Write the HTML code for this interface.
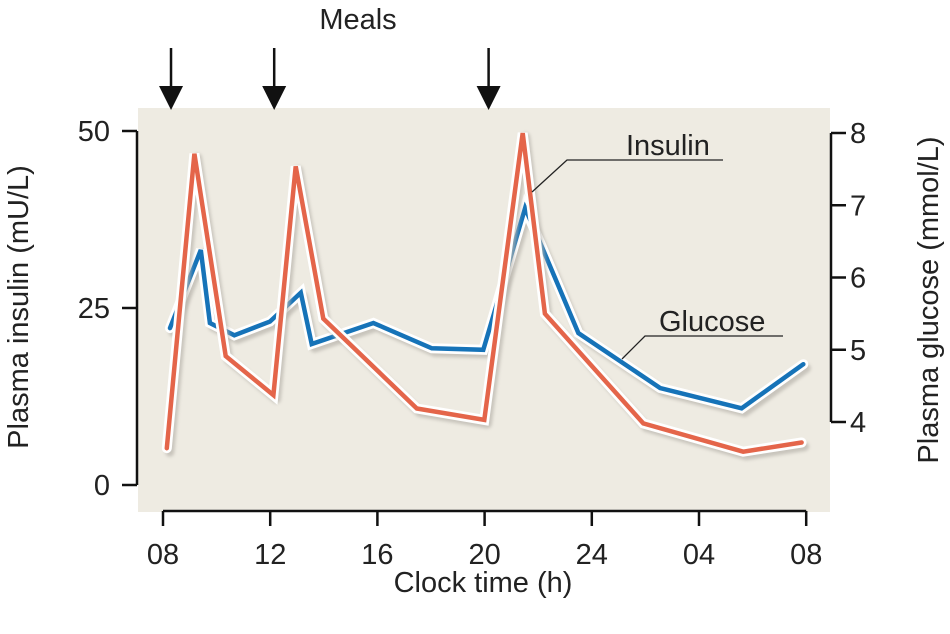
<!DOCTYPE html>
<html><head><meta charset="utf-8"><style>
html,body{margin:0;padding:0;background:#fff;}
svg text{font-family:"Liberation Sans",Arial,sans-serif;fill:#222;}
</style></head><body>
<svg id="chart" width="950" height="629" viewBox="0 0 950 629" xmlns="http://www.w3.org/2000/svg">
<defs><filter id="sh" x="-10%" y="-10%" width="120%" height="120%"><feGaussianBlur stdDeviation="1.5"/></filter></defs>
<rect x="138" y="108" width="692" height="404" fill="#eeebe2"/>
<g id="marks"></g>
<g id="axes" stroke="#111" stroke-width="2.5" fill="none"></g>
<g id="labels"></g>
<text x="358" y="29" font-size="29" text-anchor="middle">Meals</text>
<text x="483" y="592" font-size="29" text-anchor="middle">Clock time (h)</text>
<text transform="translate(28,307) rotate(-90)" font-size="29" text-anchor="middle">Plasma insulin (mU/L)</text>
<text transform="translate(938,300) rotate(-90)" font-size="29" text-anchor="middle">Plasma glucose (mmol/L)</text>
<text x="626" y="155" font-size="29">Insulin</text>
<polyline points="532,192 567,160 723,160" fill="none" stroke="#222" stroke-width="1.3"/>
<text x="659" y="331" font-size="29">Glucose</text>
<polyline points="622,359 645,336 783,336" fill="none" stroke="#222" stroke-width="1.3"/>
</svg>
<script>
const insulinHours=[0.14,1.17,2.34,4.12,4.95,5.98,9.47,11.99,13.42,14.25,17.92,21.65,23.83];
const insulinValues=[5.2,46.8,18.2,12.7,45,23.5,10.8,9.2,49.7,24.2,8.7,4.7,6.0];
const glucoseHours=[0.26,1.41,1.75,2.66,3.99,5.14,5.55,7.85,10.03,11.95,13.51,14.13,15.5,18.55,21.59,23.89];
const glucoseValues=[5.30,6.38,5.37,5.20,5.39,5.79,5.08,5.37,5.02,5.00,6.96,6.43,5.23,4.47,4.19,4.80];
const xTickLabels=["08","12","16","20","24","04","08"];
const xTickHours=[0,4,8,12,16,20,24];
const leftTicks=[0,25,50];
const rightTicks=[4,5,6,7,8];
const mealHours=[0.15,4.0,12.0];

const NS="http://www.w3.org/2000/svg";
const xs=h=>163+h*26.8;
const yL=v=>485-v*7.08;
const yR=v=>133+(8-v)*72.25;
function mk(tag,attrs,parent){const e=document.createElementNS(NS,tag);for(const k in attrs)e.setAttribute(k,attrs[k]);parent.appendChild(e);return e;}
const marks=document.getElementById('marks'),axes=document.getElementById('axes'),labels=document.getElementById('labels');
function series(hours,vals,ys,color,name){
  const pts=hours.map((h,i)=>xs(h).toFixed(1)+","+ys(vals[i]).toFixed(1)).join(" ");
  const sh=mk('polyline',{points:pts,fill:'none',stroke:'#b8b4ac','stroke-width':9,'stroke-linejoin':'round','stroke-linecap':'round',transform:'translate(3,4)',filter:'url(#sh)',opacity:0.7},marks);
  
  
  const halo=mk('polyline',{points:pts,fill:'none',stroke:'#fff','stroke-width':10,'stroke-linejoin':'miter','stroke-linecap':'round'},marks);
  
  
  const ln=mk('polyline',{points:pts,fill:'none',stroke:color,'stroke-width':4.5,'stroke-linejoin':'miter','stroke-linecap':'round'},marks);
  
  
}
series(glucoseHours,glucoseValues,yR,'#1673b8','glucose');
series(insulinHours,insulinValues,yL,'#e4654a','insulin');

const la=mk('path',{d:`M137,${yL(50)} L137,${yL(0)}`},axes);


leftTicks.forEach(v=>{
  const t=mk('line',{x1:122,x2:137,y1:yL(v),y2:yL(v)},axes);
  
  
  const tx=mk('text',{x:110,y:yL(v)+10,'font-size':29,'text-anchor':'end'},labels);tx.textContent=v;
  
  
});
const ra=mk('path',{d:`M831,${yR(8)} L831,${yR(4)}`},axes);


rightTicks.forEach(v=>{
  const t=mk('line',{x1:831,x2:846,y1:yR(v),y2:yR(v)},axes);
  
  
  const tx=mk('text',{x:850,y:yR(v)+10,'font-size':29},labels);tx.textContent=v;
  
  
});
const ba=mk('path',{d:`M${xs(0)},511 L${xs(24)},511`},axes);


xTickHours.forEach((h,i)=>{
  const t=mk('line',{x1:xs(h),x2:xs(h),y1:511,y2:526},axes);
  
  
  const tx=mk('text',{x:xs(h),y:564,'font-size':29,'text-anchor':'middle'},labels);tx.textContent=xTickLabels[i];
  
  
});
mealHours.forEach((h,i)=>{
  const x=xs(h)+4;
  const l=mk('line',{x1:x,x2:x,y1:48,y2:95,stroke:'#111','stroke-width':2.5},labels);
  
  
  const p=mk('polygon',{points:`${x-12},86 ${x+12},86 ${x},110`,fill:'#111'},labels);
  
  
});
</script>
</body></html>
